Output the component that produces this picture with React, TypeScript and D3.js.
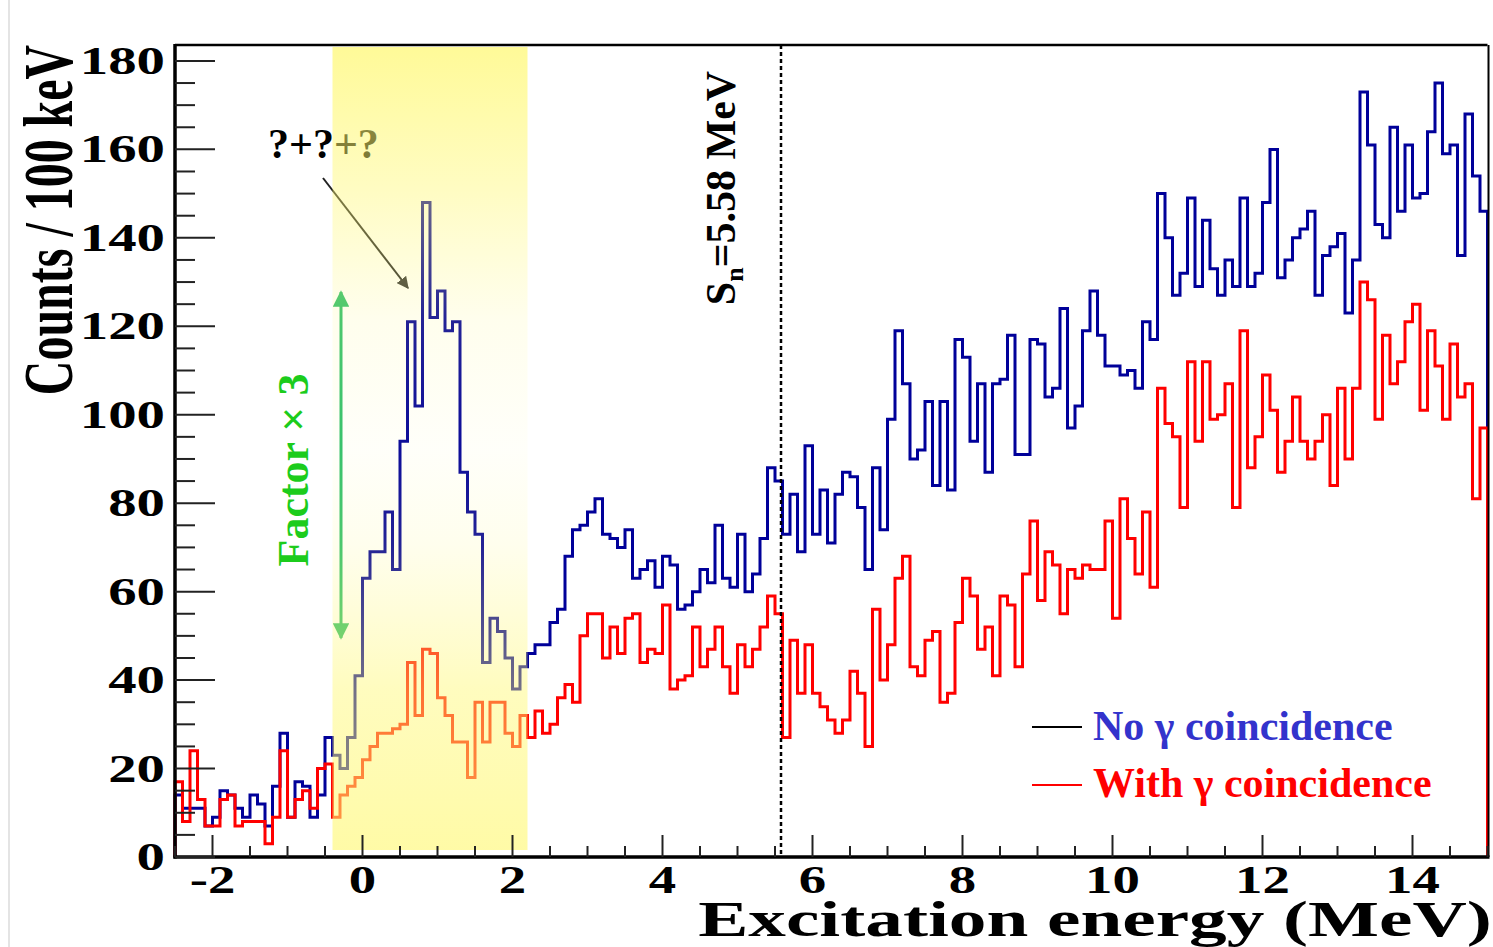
import React from 'react';
import * as d3 from 'd3';

// 100 keV bins starting at -2.5 MeV
const BIN_START = -2.5;
const BIN_WIDTH = 0.1;

// counts without gamma coincidence (blue)
const noGamma = [
  14, 11, 11, 11, 7, 9, 15, 14, 11, 9, 14, 12, 7, 16, 28, 9, 17, 16, 9, 14, 27, 23,
  20, 27, 41, 63, 69, 69, 78, 65, 94, 121, 102, 148, 122, 128, 119, 121, 87, 78, 73, 44, 54, 51, 45, 38, 43, 46, 48,
  48, 53, 56, 68, 74, 75, 78, 81, 73, 72, 70, 74, 63, 65, 67, 61, 68, 66, 56, 57, 60, 65, 62, 75, 63, 61, 73, 60, 64, 72,
  88, 85, 73, 82, 69, 93, 73, 83, 71, 82, 87, 86, 79, 65, 88, 74, 99, 119, 107, 90, 92, 103, 84, 103, 83, 117, 113, 94, 107, 87, 107, 108,
  118, 91, 91, 117, 116, 104, 106, 124, 97, 102, 119, 128, 118, 111, 111, 109, 110, 106, 121, 117,
  150, 140, 127, 132, 149, 129, 144, 133, 127, 135, 129, 149, 129, 132, 148, 160, 131, 135, 140, 142, 146, 127,
  136, 138, 141, 123, 135, 173, 161, 143, 140, 165, 146, 161, 149, 150, 164, 175, 159, 161, 136, 168, 154, 146,
];

// counts with gamma coincidence, factor x3 (red)
const withGamma = [
  17, 8, 24, 13, 7, 7, 13, 14, 7, 8, 8, 8, 3, 9, 24, 9, 13, 15, 11, 20, 21, 9,
  14, 16, 18, 22, 25, 28, 28, 29, 30, 44, 32, 47, 46, 36, 32, 26, 26, 18, 35, 26, 35, 35, 28, 25, 32, 27, 33,
  28, 30, 36, 39, 35, 50, 55, 55, 45, 52, 46, 54, 55, 44, 47, 46, 57, 38, 40, 41, 52, 43, 47, 52, 43, 37, 48, 43, 47, 52,
  59, 55, 27, 49, 37, 48, 37, 34, 31, 28, 31, 42, 37, 25, 56, 40, 48, 63, 68, 43, 41, 49, 51, 35, 37, 53, 63, 59, 47, 52, 41, 59,
  57, 43, 64, 76, 58, 69, 66, 55, 65, 63, 66, 65, 65, 76, 54, 81, 72, 64, 78, 61,
  106, 98, 95, 79, 112, 94, 112, 99, 100, 107, 79, 119, 88, 95, 109, 101, 87, 94, 104, 94, 90, 94,
  100, 84, 106, 90, 106, 130, 126, 99, 118, 107, 112, 121, 125, 101, 119, 111, 99, 116, 104, 107, 81, 97,
];

const xTicks = [-2, 0, 2, 4, 6, 8, 10, 12, 14];
const yTicks = [0, 20, 40, 60, 80, 100, 120, 140, 160, 180];
const SN = 5.58;
const highlight = [-0.4, 2.2];

const FONT = '"Liberation Serif", "Times New Roman", serif';

const x = d3.scaleLinear().domain([-2.5, 15]).range([175, 1487.5]);
const y = d3.scaleLinear().domain([0, 183.6]).range([857, 45]);

function histPath(values: number[]) {
  const pts: [number, number][] = [[BIN_START, 0]];
  values.forEach((v, i) => pts.push([BIN_START + i * BIN_WIDTH, v]));
  const end = BIN_START + values.length * BIN_WIDTH;
  pts.push([end, values[values.length - 1]]);
  pts.push([end, 0]);
  const line = d3.line<[number, number]>()
    .x(d => x(d[0]))
    .y(d => y(d[1]))
    .curve(d3.curveStepAfter);
  return line(pts) || '';
}

export default function App() {
  const minorY = d3.range(0, 181, 5);
  const minorX = d3.range(-2.5, 15.01, 0.5);
  const [x0, x1] = x.range();
  const [yb, yt] = y.range();

  return (
    <svg width={1493} height={947} style={{ position: 'absolute', left: 0, top: 0, background: '#fff' }}
      fontFamily={FONT} fontWeight="bold">
      <defs>
        <linearGradient id="glow" x1="0" y1="0" x2="0" y2="1">
          <stop offset="0" stopColor="#fff870" stopOpacity={0.72} />
          <stop offset="0.18" stopColor="#fff870" stopOpacity={0.42} />
          <stop offset="0.34" stopColor="#fff880" stopOpacity={0.14} />
          <stop offset="0.5" stopColor="#fffa90" stopOpacity={0.05} />
          <stop offset="0.62" stopColor="#fff880" stopOpacity={0.14} />
          <stop offset="0.8" stopColor="#fff870" stopOpacity={0.45} />
          <stop offset="1" stopColor="#fff870" stopOpacity={0.62} />
        </linearGradient>
        <marker id="grayHead" viewBox="0 0 10 10" refX="9" refY="5" markerWidth="6" markerHeight="6" orient="auto">
          <path d="M0,0 L10,5 L0,10 z" fill="#333" />
        </marker>
        <marker id="greenHead" viewBox="0 0 10 10" refX="9" refY="5" markerWidth="5.5" markerHeight="5.5" orient="auto-start-reverse">
          <path d="M0,0 L10,5 L0,10 z" fill="#2fbf6a" />
        </marker>
      </defs>

      <line x1={9} x2={9} y1={0} y2={947} stroke="#e4e4e4" strokeWidth={2} />

      {/* histograms */}
      <path d={histPath(noGamma)} fill="none" stroke="#000099" strokeWidth={3} />
      <path d={histPath(withGamma)} fill="none" stroke="#ff0000" strokeWidth={3} />

      {/* annotations under the highlight */}
      <text x={268} y={158} fontSize={42} fill="#000">?+?+?</text>
      <line x1={323} y1={178} x2={408} y2={288} stroke="#222" strokeWidth={2} markerEnd="url(#grayHead)" />
      <line x1={341} y1={292} x2={341} y2={638} stroke="#2fbf6a" strokeWidth={3}
        markerStart="url(#greenHead)" markerEnd="url(#greenHead)" />

      {/* highlight band */}
      <rect x={x(highlight[0])} y={47} width={x(highlight[1]) - x(highlight[0])} height={803} fill="url(#glow)" />

      {/* separation energy */}
      <line x1={x(SN)} x2={x(SN)} y1={yt} y2={yb} stroke="#000" strokeWidth={2.5} strokeDasharray="4 3" />
      <text transform={`translate(735,188) rotate(-90)`} textAnchor="middle" fontSize={42} fill="#000">
        S<tspan fontSize={26} dy={8}>n</tspan><tspan dy={-8}>=5.58 MeV</tspan>
      </text>

      <text transform={`translate(308,470) rotate(-90)`} textAnchor="middle" fontSize={44} fill="#1ccc1c">
        Factor × 3
      </text>

      {/* frame */}
      <line x1={x0} x2={x1} y1={yt} y2={yt} stroke="#000" strokeWidth={2.5} />
      <line x1={x1 + 1} x2={x1 + 1} y1={yt} y2={yb} stroke="#000" strokeWidth={2} />
      <line x1={x0} x2={x0} y1={yt - 1} y2={yb + 1.5} stroke="#000" strokeWidth={3.5} />
      <line x1={x0 - 1.5} x2={x1 + 2} y1={yb} y2={yb} stroke="#000" strokeWidth={3.5} />

      {/* y ticks */}
      {minorY.map(v => (
        <line key={'yt' + v} x1={x0} x2={x0 + (v % 20 === 0 ? 40 : 20)} y1={y(v)} y2={y(v)}
          stroke="#222" strokeWidth={2} />
      ))}
      {yTicks.map(v => (
        <text key={'yl' + v} transform={`translate(165,${y(v) + 13}) scale(1.42,1)`} textAnchor="end"
          fontSize={40} fill="#000">{v}</text>
      ))}

      {/* x ticks */}
      {minorX.map(v => {
        const major = Math.abs(Math.round(v / 2) * 2 - v) < 1e-6;
        return (
          <line key={'xt' + v} x1={x(v)} x2={x(v)} y1={yb} y2={yb - (major ? 22 : 11)}
            stroke="#222" strokeWidth={2} />
        );
      })}
      {xTicks.map(v => (
        <text key={'xl' + v} transform={`translate(${x(v)},893) scale(1.37,1)`} textAnchor="middle"
          fontSize={40} fill="#000">{v}</text>
      ))}

      {/* axis titles */}
      <text transform="translate(1095,936) scale(1.475,1)" textAnchor="middle" fontSize={51}
        fill="#000">Excitation energy (MeV)</text>
      <text transform="translate(72,220) rotate(-90) scale(0.685,1)" textAnchor="middle" fontSize={70}
        fill="#000">Counts / 100 keV</text>

      {/* legend */}
      <line x1={1032} x2={1082} y1={727} y2={727} stroke="#000" strokeWidth={2} />
      <text x={1093} y={740} fontSize={42} fill="#3333cc">No γ coincidence</text>
      <line x1={1032} x2={1082} y1={785} y2={785} stroke="#ff0000" strokeWidth={2} />
      <text x={1093} y={797} fontSize={42} fill="#ff0000">With γ coincidence</text>
    </svg>
  );
}
